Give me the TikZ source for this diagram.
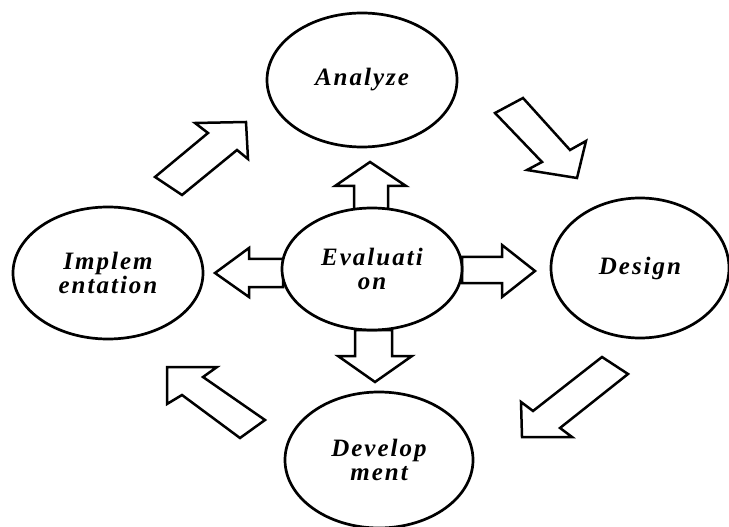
\documentclass[tikz,border=0pt]{standalone}
\usepackage{fontspec}
\newfontfamily\phasefont{Liberation Serif Bold Italic}[LetterSpace=8]
\usetikzlibrary{shapes.geometric}
\tikzset{
  phase/.style={draw=black, line width=2.7bp, ellipse, fill=white, inner sep=0pt,
    align=center, font=\fontsize{25bp}{24bp}\phasefont},
  blockarrow/.style={draw=black, line width=2.5bp, fill=white, line join=miter}
}
\begin{document}
\begin{tikzpicture}[x=1bp, y=-1bp]
\useasboundingbox (0,0) rectangle (729,527);
% block arrows
\draw[blockarrow] (354,210) -- (354,186) -- (335,186) -- (370,162) -- (406,186) -- (388,186) -- (388,210) -- cycle;
\draw[blockarrow] (355,330) -- (355,356) -- (338,356) -- (375,382) -- (412,356) -- (392,356) -- (392,330) -- cycle;
\draw[blockarrow] (462,257) -- (502,257) -- (502,245) -- (535,271) -- (502,297) -- (502,283) -- (462,283) -- cycle;
\draw[blockarrow] (283,259) -- (249,259) -- (249,248) -- (215,273) -- (249,297) -- (249,287) -- (283,287) -- cycle;
\draw[blockarrow] (155,177) -- (208,133) -- (195,123) -- (246,122) -- (248,159) -- (237,150) -- (182,195) -- cycle;
\draw[blockarrow] (495,113) -- (523,98) -- (570,150) -- (586,141) -- (577,178) -- (527,170) -- (542,162) -- cycle;
\draw[blockarrow] (602,357) -- (628,374) -- (560,428) -- (572,437) -- (522,437) -- (521,402) -- (533,411) -- cycle;
\draw[blockarrow] (265,420) -- (240,438) -- (182,395) -- (167,404) -- (167,367) -- (217,367) -- (203,377) -- cycle;
% phases
\node[phase, minimum width=190bp, minimum height=134bp] (analyze) at (362,80) {Analyze};
\node[phase, minimum width=180bp, minimum height=122bp] (eval) at (372,269) {Evaluati\\on};
\node[phase, minimum width=190bp, minimum height=132bp] (impl) at (108,273) {Implem\\entation};
\node[phase, minimum width=178bp, minimum height=140bp] (design) at (640,268) {Design};
\node[phase, minimum width=188bp, minimum height=136bp] (devel) at (379,460) {Develop\\ment};
\end{tikzpicture}
\end{document}
